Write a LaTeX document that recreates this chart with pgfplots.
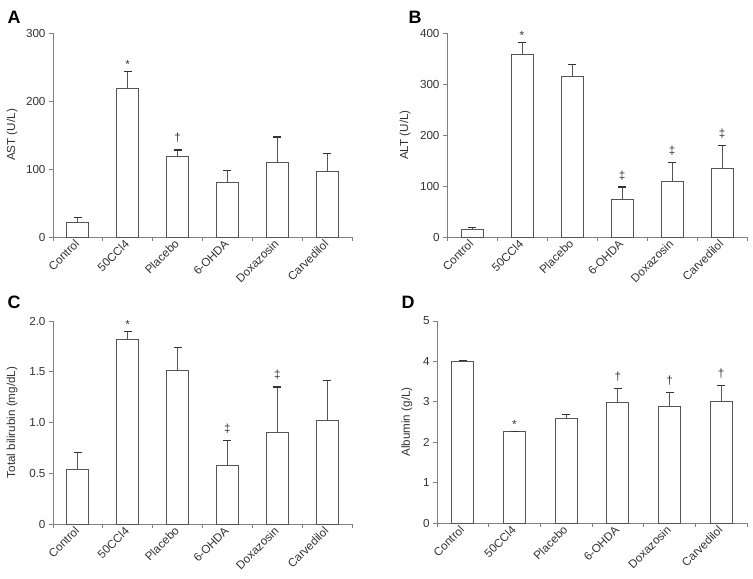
\documentclass[border=0pt]{standalone}
\usepackage{pgfplots}
\pgfplotsset{compat=1.18}
\usepackage{pgfplotstable}
\usepackage{fontspec}
\setmainfont{Liberation Sans}
\definecolor{axgray}{HTML}{808080}
\definecolor{bardark}{HTML}{555555}
\definecolor{capdark}{HTML}{333333}
\definecolor{txt}{HTML}{333333}

\pgfplotstableread{
x y e
0 21 8
1 218 26
2 119 9
3 80 17.5
4 110 37
5 96 27
}\dataA
\pgfplotstableread{
x y e
0 14 4
1 357 25
2 315 24
3 73 25
4 109.5 37
5 134 45
}\dataB
\pgfplotstableread{
x y e
0 0.54 0.16
1 1.82 0.08
2 1.51 0.23
3 0.58 0.24
4 0.90 0.45
5 1.02 0.39
}\dataC
\pgfplotstableread{
x y e
0 3.99 0.03
1 2.26 0.005
2 2.60 0.09
3 2.98 0.35
4 2.88 0.34
5 3.00 0.40
}\dataD

\newcommand{\tfont}{\fontsize{11.7}{13}\selectfont}
\pgfplotsset{
  panel/.style={
    scale only axis,
    xmin=-0.5, xmax=5.5, ymin=0,
    clip=false,
    axis x line*=bottom, axis y line*=left,
    axis line style={axgray, line width=0.9bp},
    tick align=outside,
    major tick length=4bp, minor tick length=4bp,
    tick style={axgray, line width=0.9bp},
    xtick={0,...,5},
    xticklabels={Control,50CCl4,Placebo,6-OHDA,Doxazosin,Carvedilol},
    major x tick style={draw=none},
    minor xtick={-0.5,0.5,1.5,2.5,3.5,4.5,5.5},
    xticklabel style={rotate=45, anchor=east, font=\tfont, text=txt, inner sep=1pt},
    yticklabel style={font=\tfont, text=txt},
    every axis y label/.style={rotate=90, anchor=center, font=\tfont, text=txt},
    /pgf/number format/assume math mode=true,
  },
  bars/.style={ybar, bar width=22bp, fill=white, draw=bardark, line width=0.9bp,
    error bars/.cd, y dir=plus, y explicit,
    error mark=|,
    error bar style={bardark, line width=0.9bp},
    error mark options={draw=capdark, mark size=4bp, line width=1.1bp}},
  star/.style={draw=none, mark=none, nodes near coords, point meta=explicit symbolic,
    nodes near coords style={anchor=base, yshift=3bp, text=txt, font=\tfont}},
  dagg/.style={draw=none, mark=none, nodes near coords, point meta=explicit symbolic,
    nodes near coords style={anchor=base, yshift=8bp, text=txt, font=\tfont}},
}

\begin{document}
\begin{tikzpicture}
\useasboundingbox (0bp,0bp) rectangle (753bp,579bp);

% Panel A
\begin{axis}[panel, at={(53bp,342bp)}, anchor=south west, width=299bp, height=204bp,
  ymax=300, ytick={0,100,200,300},
  ylabel={AST (U/L)}, ylabel style={at={(axis description cs:-0.137,0.5)}}]
\addplot[bars] table[x=x, y=y, y error=e] {\dataA};
\addplot[star] coordinates {(1,244) [*]};
\addplot[dagg] coordinates {(2,128) [\dag]};
\end{axis}

% Panel B
\begin{axis}[panel, at={(447bp,342bp)}, anchor=south west, width=300bp, height=204bp,
  ymax=400, ytick={0,100,200,300,400},
  ylabel={ALT (U/L)}, ylabel style={at={(axis description cs:-0.14,0.5)}}]
\addplot[bars] table[x=x, y=y, y error=e] {\dataB};
\addplot[star] coordinates {(1,382) [*]};
\addplot[dagg] coordinates {(3,98) [\ddag] (4,146.5) [\ddag] (5,179) [\ddag]};
\end{axis}

% Panel C
\begin{axis}[panel, at={(53bp,55bp)}, anchor=south west, width=299bp, height=203bp,
  ymax=2.0, ytick={0,0.5,1.0,1.5,2.0}, yticklabels={0,0.5,1.0,1.5,2.0},
  ylabel={Total bilirubin (mg/dL)}, ylabel style={at={(axis description cs:-0.137,0.5)}}]
\addplot[bars] table[x=x, y=y, y error=e] {\dataC};
\addplot[star] coordinates {(1,1.90) [*]};
\addplot[dagg] coordinates {(3,0.82) [\ddag] (4,1.355) [\ddag]};
\end{axis}

% Panel D
\begin{axis}[panel, at={(437bp,56bp)}, anchor=south west, width=310bp, height=202bp,
  ymax=5, ytick={0,1,2,3,4,5},
  ylabel={Albumin (g/L)}, ylabel style={at={(axis description cs:-0.097,0.5)}}]
\addplot[bars] table[x=x, y=y, y error=e] {\dataD};
\addplot[star] coordinates {(1,2.27) [*]};
\addplot[dagg] coordinates {(3,3.33) [\dag] (4,3.22) [\dag] (5,3.40) [\dag]};
\end{axis}

\node[font=\fontsize{18}{18}\selectfont\bfseries] at (14bp,562bp) {A};
\node[font=\fontsize{18}{18}\selectfont\bfseries] at (415bp,562bp) {B};
\node[font=\fontsize{18}{18}\selectfont\bfseries] at (14bp,277bp) {C};
\node[font=\fontsize{18}{18}\selectfont\bfseries] at (408bp,277bp) {D};
\end{tikzpicture}
\end{document}
